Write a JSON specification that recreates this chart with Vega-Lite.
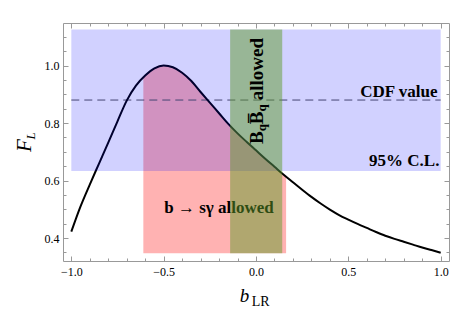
{
  "$schema": "https://vega.github.io/schema/vega-lite/v6.json",
  "width": 386,
  "height": 238,
  "autosize": "none",
  "padding": {"left": 63, "top": 23, "right": 19, "bottom": 70},
  "background": "white",
  "config": {"view": {"stroke": null}, "font": "Liberation Serif"},
  "datasets": {
    "curve": [
      {"x": -1.0, "y": 0.422}, {"x": -0.95, "y": 0.51}, {"x": -0.9, "y": 0.586}, {"x": -0.85, "y": 0.659},
      {"x": -0.8, "y": 0.732}, {"x": -0.75, "y": 0.806}, {"x": -0.7, "y": 0.878}, {"x": -0.65, "y": 0.93},
      {"x": -0.6, "y": 0.965}, {"x": -0.55, "y": 0.99}, {"x": -0.5, "y": 1.0}, {"x": -0.45, "y": 0.994},
      {"x": -0.4, "y": 0.975}, {"x": -0.35, "y": 0.946}, {"x": -0.3, "y": 0.908}, {"x": -0.25, "y": 0.871},
      {"x": -0.2, "y": 0.834}, {"x": -0.15, "y": 0.797}, {"x": -0.1, "y": 0.764}, {"x": -0.05, "y": 0.734},
      {"x": 0.0, "y": 0.705}, {"x": 0.05, "y": 0.676}, {"x": 0.1, "y": 0.648}, {"x": 0.15, "y": 0.62},
      {"x": 0.2, "y": 0.594}, {"x": 0.25, "y": 0.568}, {"x": 0.3, "y": 0.543}, {"x": 0.35, "y": 0.52},
      {"x": 0.4, "y": 0.499}, {"x": 0.45, "y": 0.48}, {"x": 0.5, "y": 0.464}, {"x": 0.55, "y": 0.449},
      {"x": 0.6, "y": 0.435}, {"x": 0.65, "y": 0.421}, {"x": 0.7, "y": 0.408}, {"x": 0.75, "y": 0.397},
      {"x": 0.8, "y": 0.387}, {"x": 0.85, "y": 0.377}, {"x": 0.9, "y": 0.367}, {"x": 0.95, "y": 0.358},
      {"x": 1.0, "y": 0.349}
    ],
    "pink": [
      {"x": -0.61, "y": 0.958}, {"x": -0.6, "y": 0.965}, {"x": -0.55, "y": 0.99}, {"x": -0.5, "y": 1.0},
      {"x": -0.45, "y": 0.994}, {"x": -0.4, "y": 0.975}, {"x": -0.35, "y": 0.946}, {"x": -0.3, "y": 0.908},
      {"x": -0.25, "y": 0.871}, {"x": -0.2, "y": 0.834}, {"x": -0.15, "y": 0.797}, {"x": -0.1, "y": 0.764},
      {"x": -0.05, "y": 0.734}, {"x": 0.0, "y": 0.705}, {"x": 0.05, "y": 0.676}, {"x": 0.1, "y": 0.648},
      {"x": 0.15, "y": 0.62}, {"x": 0.163, "y": 0.613}
    ]
  },
  "layer": [
    {
      "data": {"name": "pink"},
      "mark": {"type": "area", "color": "#ff0000", "opacity": 0.3, "interpolate": "monotone"},
      "encoding": {
        "x": {"field": "x", "type": "quantitative", "scale": {"domain": [-1.045, 1.045], "nice": false, "zero": false}, "axis": null},
        "y": {"field": "y", "type": "quantitative", "scale": {"domain": [0.32, 1.148], "nice": false, "zero": false}, "axis": null},
        "y2": {"datum": 0.347}
      }
    },
    {
      "data": {"values": [{"x": -0.497, "y": 0.488, "label": "b → sγ allowed"}]},
      "mark": {"type": "text", "font": "Liberation Serif", "fontWeight": "bold", "fontSize": 17, "align": "left", "baseline": "alphabetic", "color": "black"},
      "encoding": {
        "x": {"field": "x", "type": "quantitative", "axis": null},
        "y": {"field": "y", "type": "quantitative", "axis": null},
        "text": {"field": "label"}
      }
    },
    {
      "data": {"values": [{"x": -1, "x2": 1, "y": 0.88}]},
      "mark": {"type": "rule", "color": "#555555", "strokeWidth": 1, "strokeDash": [8, 5]},
      "encoding": {
        "x": {"field": "x", "type": "quantitative", "axis": null},
        "x2": {"field": "x2"},
        "y": {"field": "y", "type": "quantitative", "axis": null}
      }
    },
    {
      "data": {"name": "curve"},
      "mark": {"type": "line", "color": "black", "strokeWidth": 2, "interpolate": "monotone"},
      "encoding": {
        "x": {"field": "x", "type": "quantitative", "axis": null},
        "y": {"field": "y", "type": "quantitative", "axis": null}
      }
    },
    {
      "data": {"values": [{"x": -1, "x2": 1, "y": 0.633, "y2": 1.125}]},
      "mark": {"type": "rect", "color": "#0000ff", "opacity": 0.18},
      "encoding": {
        "x": {"field": "x", "type": "quantitative", "axis": null},
        "x2": {"field": "x2"},
        "y": {"field": "y", "type": "quantitative", "axis": null},
        "y2": {"field": "y2"}
      }
    },
    {
      "data": {"values": [{"x": -0.14, "x2": 0.142, "y": 0.347, "y2": 1.125}]},
      "mark": {"type": "rect", "color": "#5e9b29", "opacity": 0.49},
      "encoding": {
        "x": {"field": "x", "type": "quantitative", "axis": null},
        "x2": {"field": "x2"},
        "y": {"field": "y", "type": "quantitative", "axis": null},
        "y2": {"field": "y2"}
      }
    },
    {
      "data": {"values": [{"x": 0.983, "y": 0.89, "label": "CDF value"}, {"x": 0.993, "y": 0.651, "label": "95% C.L."}]},
      "mark": {"type": "text", "font": "Liberation Serif", "fontWeight": "bold", "fontSize": 17, "align": "right", "baseline": "alphabetic", "color": "black"},
      "encoding": {
        "x": {"field": "x", "type": "quantitative", "axis": null},
        "y": {"field": "y", "type": "quantitative", "axis": null},
        "text": {"field": "label"}
      }
    },
    {
      "data": {"values": [{"x": 0.0406, "y": 0.727, "label": "B"}, {"x": 0.0406, "y": 0.796, "label": "B̅"}, {"x": 0.0406, "y": 0.879, "label": "allowed"}]},
      "mark": {"type": "text", "font": "Liberation Serif", "fontWeight": "bold", "fontSize": 19, "angle": 270, "align": "left", "baseline": "alphabetic", "color": "black"},
      "encoding": {
        "x": {"field": "x", "type": "quantitative", "axis": null},
        "y": {"field": "y", "type": "quantitative", "axis": null},
        "text": {"field": "label"}
      }
    },
    {
      "data": {"values": [{"x": 0.0568, "y": 0.771, "label": "q"}, {"x": 0.0568, "y": 0.840, "label": "q"}]},
      "mark": {"type": "text", "font": "Liberation Serif", "fontWeight": "bold", "fontSize": 13, "angle": 270, "align": "left", "baseline": "alphabetic", "color": "black"},
      "encoding": {
        "x": {"field": "x", "type": "quantitative", "axis": null},
        "y": {"field": "y", "type": "quantitative", "axis": null},
        "text": {"field": "label"}
      }
    },
    {
      "data": {"values": [{"x": -1.216, "y": 0.699, "label": "F"}]},
      "mark": {"type": "text", "font": "Liberation Serif", "fontStyle": "italic", "fontSize": 21, "angle": 270, "align": "left", "baseline": "alphabetic", "color": "black"},
      "encoding": {
        "x": {"field": "x", "type": "quantitative", "axis": null},
        "y": {"field": "y", "type": "quantitative", "axis": null},
        "text": {"field": "label"}
      }
    },
    {
      "data": {"values": [{"x": -1.195, "y": 0.743, "label": "L"}]},
      "mark": {"type": "text", "font": "Liberation Serif", "fontStyle": "italic", "fontSize": 13, "angle": 270, "align": "left", "baseline": "alphabetic", "color": "black"},
      "encoding": {
        "x": {"field": "x", "type": "quantitative", "axis": null},
        "y": {"field": "y", "type": "quantitative", "axis": null},
        "text": {"field": "label"}
      }
    },
    {
      "data": {"values": [{"x": -0.088, "y": 0.179, "label": "b"}]},
      "mark": {"type": "text", "font": "Liberation Serif", "fontStyle": "italic", "fontSize": 19, "align": "left", "baseline": "alphabetic", "color": "black"},
      "encoding": {
        "x": {"field": "x", "type": "quantitative", "axis": null},
        "y": {"field": "y", "type": "quantitative", "axis": null},
        "text": {"field": "label"}
      }
    },
    {
      "data": {"values": [{"x": -0.023, "y": 0.164, "label": "LR"}]},
      "mark": {"type": "text", "font": "Liberation Serif", "fontSize": 14, "align": "left", "baseline": "alphabetic", "color": "black"},
      "encoding": {
        "x": {"field": "x", "type": "quantitative", "axis": null},
        "y": {"field": "y", "type": "quantitative", "axis": null},
        "text": {"field": "label"}
      }
    },
    {
      "data": {"name": "curve"},
      "mark": {"type": "point", "opacity": 0},
      "encoding": {
        "x": {"field": "x", "type": "quantitative", "axis": {
          "orient": "bottom", "title": null, "grid": false,
          "values": [-1, -0.9, -0.8, -0.7, -0.6, -0.5, -0.4, -0.3, -0.2, -0.1, 0, 0.1, 0.2, 0.3, 0.4, 0.5, 0.6, 0.7, 0.8, 0.9, 1],
          "format": ".1f",
          "labelExpr": "abs(round(datum.value*10)) % 5 == 0 ? datum.label : ''",
          "tickSize": {"condition": {"test": "abs(round(datum.value*10)) % 5 == 0", "value": -5}, "value": -3},
          "domainColor": "#999999", "tickColor": "#999999", "labelColor": "black",
          "labelFont": "Liberation Serif", "labelFontSize": 12, "labelPadding": 10, "labelFlush": false
        }},
        "y": {"field": "y", "type": "quantitative", "axis": {
          "orient": "left", "title": null, "grid": false,
          "values": [0.35, 0.4, 0.45, 0.5, 0.55, 0.6, 0.65, 0.7, 0.75, 0.8, 0.85, 0.9, 0.95, 1.0, 1.05, 1.1],
          "format": ".1f",
          "labelExpr": "round(datum.value*100) % 20 == 0 ? datum.label : ''",
          "tickSize": {"condition": {"test": "round(datum.value*100) % 20 == 0", "value": -5}, "value": -3},
          "domainColor": "#999999", "tickColor": "#999999", "labelColor": "black",
          "labelFont": "Liberation Serif", "labelFontSize": 12, "labelPadding": 9, "labelFlush": false
        }}
      }
    },
    {
      "data": {"name": "curve"},
      "mark": {"type": "point", "opacity": 0},
      "encoding": {
        "x": {"field": "x", "type": "quantitative", "axis": {
          "orient": "top", "title": null, "grid": false, "labels": false,
          "values": [-1, -0.9, -0.8, -0.7, -0.6, -0.5, -0.4, -0.3, -0.2, -0.1, 0, 0.1, 0.2, 0.3, 0.4, 0.5, 0.6, 0.7, 0.8, 0.9, 1],
          "tickSize": {"condition": {"test": "abs(round(datum.value*10)) % 5 == 0", "value": -5}, "value": -3},
          "domainColor": "#999999", "tickColor": "#999999"
        }},
        "y": {"field": "y", "type": "quantitative", "axis": {
          "orient": "right", "title": null, "grid": false, "labels": false,
          "values": [0.35, 0.4, 0.45, 0.5, 0.55, 0.6, 0.65, 0.7, 0.75, 0.8, 0.85, 0.9, 0.95, 1.0, 1.05, 1.1],
          "tickSize": {"condition": {"test": "round(datum.value*100) % 20 == 0", "value": -5}, "value": -3},
          "domainColor": "#999999", "tickColor": "#999999"
        }}
      }
    }
  ],
  "resolve": {"axis": {"x": "independent", "y": "independent"}}
}
